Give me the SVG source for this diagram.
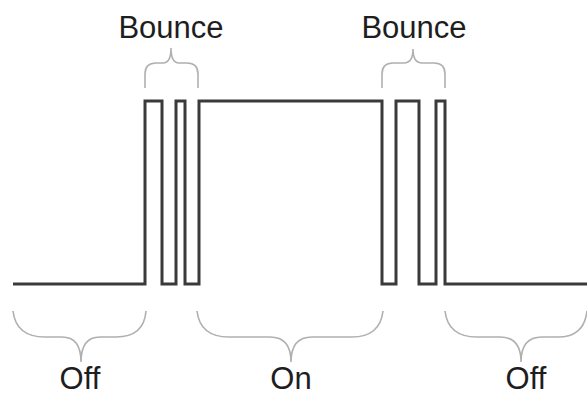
<svg xmlns="http://www.w3.org/2000/svg" width="587" height="396" viewBox="0 0 587 396">
<style>
.wave{fill:none;stroke:#3a3a3a;stroke-width:3;stroke-linejoin:miter}
.brace{fill:none;stroke:#b0b0b0;stroke-width:1.6}
.lbl{font-family:"Liberation Sans",Arial,sans-serif;font-size:31px;fill:#1e1e1e;text-anchor:middle}
</style>
<rect width="587" height="396" fill="#ffffff"/>
<g id="connectors">
<path id="signal" class="wave" d="M13,284 H145 V101 H162 V284 H176 V101 H185 V284 H199 V101 H382 V284 H396 V101 H419 V284 H436 V101 H445 V284 H587"/>
</g>
<g id="bounce1">
<path class="brace" d="M145,88 V74 Q145,63 156,63 H163 Q171,63 171,48 Q171,63 179,63 H187 Q198,63 198,74 V88"/>
<text class="lbl" x="171" y="38">Bounce</text>
</g>
<g id="bounce2">
<path class="brace" d="M382,88 V74 Q382,63 393,63 H404 Q413,63 413,49 Q413,63 422,63 H434 Q445,63 445,74 V88"/>
<text class="lbl" x="414" y="38">Bounce</text>
</g>
<g id="off1">
<path class="brace" d="M13,311 Q16,337 45,337 H62 Q81,337 81,362 Q81,337 100,337 H116 Q144,337 146,311"/>
<text class="lbl" x="80" y="389">Off</text>
</g>
<g id="on">
<path class="brace" d="M197,311 Q200,337 229,337 H270 Q291,337 291,362 Q291,337 312,337 H352 Q380,337 383,311"/>
<text class="lbl" x="291" y="389">On</text>
</g>
<g id="off2">
<path class="brace" d="M445,311 Q448,337 477,337 H500 Q521,337 521,362 Q521,337 542,337 H558 Q584,337 587,311"/>
<text class="lbl" x="526" y="389">Off</text>
</g>
</svg>
